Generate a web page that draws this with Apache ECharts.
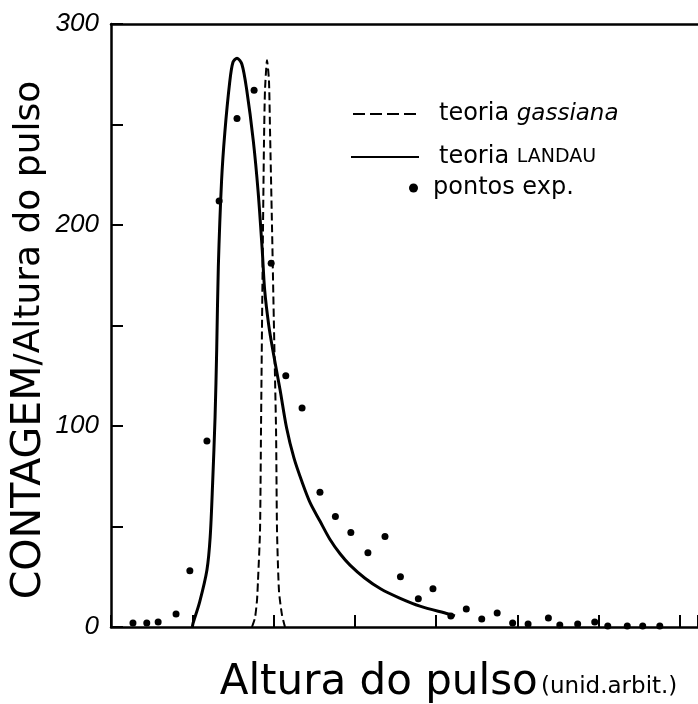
<!DOCTYPE html>
<html>
<head>
<meta charset="utf-8">
<title>Altura do pulso</title>
<script src="https://cdn.jsdelivr.net/npm/echarts@6/dist/echarts.min.js"></script>
<style>
  html, body { margin: 0; padding: 0; background: #fff; }
  #chart { width: 698px; height: 704px; }
</style>
</head>
<body>
<div id="chart"></div>
<script>
// pontos experimentais  [altura, contagem]
var pontosExp = [
  [0.27, 2], [0.44, 2], [0.58, 2.5], [0.80, 6.5], [0.97, 28], [1.18, 92.5],
  [1.33, 212], [1.55, 253], [1.76, 267], [1.97, 181], [2.15, 125], [2.35, 109],
  [2.57, 67], [2.76, 55], [2.95, 47], [3.16, 37], [3.37, 45], [3.56, 25],
  [3.78, 14], [3.96, 19], [4.18, 5.5], [4.37, 9], [4.56, 4], [4.75, 7],
  [4.94, 2], [5.13, 1.5], [5.38, 4.5], [5.52, 1], [5.74, 1.5], [5.95, 2.5],
  [6.11, 0.5], [6.35, 0.5], [6.54, 0.5], [6.75, 0.5]
]
// teoria LANDAU (linha cheia)
var teoriaLandau = [
  [1.00, 0], [1.01, 2], [1.09, 12.4], [1.18, 28.4], [1.22, 44.8], [1.25, 71.6],
  [1.28, 104.5], [1.30, 137.8], [1.32, 179], [1.36, 222], [1.40, 246], [1.46, 271],
  [1.50, 281], [1.55, 283], [1.61, 280], [1.67, 267], [1.75, 242], [1.81, 216.4],
  [1.86, 187.6], [1.89, 167.7], [1.94, 150.2], [1.99, 137.8], [2.08, 117.9],
  [2.16, 99], [2.25, 84.1], [2.35, 72.1], [2.45, 61.7], [2.57, 52.7], [2.69, 43.8],
  [2.82, 36.3], [2.94, 30.8], [3.12, 24.4], [3.32, 18.9], [3.55, 14.4], [3.80, 10.4],
  [4.15, 6.5], [4.23, 5.5]
]
// teoria gaussiana (tracejada)
var teoriaGauss = [
  [1.734, 0], [1.771, 4.5], [1.796, 13.4], [1.808, 23], [1.833, 48], [1.845, 98],
  [1.857, 148], [1.870, 200], [1.882, 242], [1.894, 267], [1.919, 282], [1.943, 272],
  [1.956, 247], [1.980, 200], [2.005, 148], [2.030, 98], [2.042, 48], [2.066, 18],
  [2.103, 6], [2.140, 0]
]
// rótulos do eixo y
var yLabels = [0, 100, 200, 300]

var font = 'DejaVu Sans'
var chart = echarts.init(document.getElementById('chart'))
chart.setOption({
  animation: false,
  backgroundColor: '#fff',
  color: ['#000'],
  grid: { left: 111, right: 0, top: 24, bottom: 77, outerBoundsMode: 'none', containLabel: false },
  // ---- legendas (uma por linha) ----
  legend: [
    {
      data: ['teoria gassiana'], left: 347, top: 97, itemWidth: 68, itemHeight: 2,
      itemStyle: { opacity: 0 },
      lineStyle: { type: [12, 5], width: 2 },
      formatter: 'teoria {i|gassiana}',
      textStyle: { fontFamily: font, fontSize: 24, color: '#000', padding: [0, 0, 0, 13],
        rich: { i: { fontFamily: font, fontSize: 23, fontStyle: 'italic', color: '#000' } } }
    },
    {
      data: ['teoria LANDAU'], left: 345, top: 140, itemWidth: 68, itemHeight: 2,
      itemStyle: { opacity: 0 },
      formatter: 'teoria {s|LANDAU}',
      textStyle: { fontFamily: font, fontSize: 24, color: '#000', padding: [0, 0, 0, 15],
        rich: { s: { fontFamily: font, fontSize: 19, color: '#000' } } }
    },
    {
      data: ['pontos exp.'], left: 404, top: 171, itemWidth: 9, itemHeight: 9, icon: 'circle',
      textStyle: { fontFamily: font, fontSize: 24, color: '#000', padding: [0, 0, 0, 10] }
    }
  ],
  xAxis: [
    {
      type: 'value', min: 0, max: 7.22, interval: 1,
      name: '{a|Altura do pulso} {b|(unid.arbit.)}',
      nameLocation: 'middle', nameGap: 35,
      nameTextStyle: {
        padding: [0, 0, 0, 88],
        rich: {
          a: { fontFamily: font, fontSize: 42, color: '#000' },
          b: { fontFamily: font, fontSize: 23, color: '#000', padding: [8, 0, 0, 0] }
        }
      },
      axisLine: { lineStyle: { color: '#000', width: 2.5 } },
      axisTick: { inside: true, length: 12, lineStyle: { color: '#000', width: 2 } },
      axisLabel: { show: false },
      splitLine: { show: false }
    },
    {
      // linha superior da moldura
      type: 'value', position: 'top', min: 0, max: 7.22,
      axisLine: { show: true, lineStyle: { color: '#000', width: 2.5 } },
      axisTick: { show: false }, axisLabel: { show: false }, splitLine: { show: false }
    }
  ],
  yAxis: {
    type: 'value', min: 0, max: 300, interval: 50,
    name: '{c|CONTAGEM}{l|/Altura do pulso}',
    nameLocation: 'middle', nameRotate: 90, nameGap: 61, nameMoveOverlap: false,
    nameTextStyle: {
      padding: [0, 29, 0, 0],
      rich: {
        c: { fontFamily: font, fontSize: 41, color: '#000' },
        l: { fontFamily: font, fontSize: 36, color: '#000' }
      }
    },
    axisLine: { show: true, lineStyle: { color: '#000', width: 2.5 } },
    axisTick: { inside: true, length: 12, lineStyle: { color: '#000', width: 2 } },
    axisLabel: {
      margin: 12, fontFamily: 'Liberation Sans', fontSize: 26,
      fontStyle: 'italic', color: '#000',
      formatter: function (v) { return yLabels.indexOf(v) >= 0 ? String(v) : '' }
    },
    splitLine: { show: false }
  },
  series: [
    {
      name: 'teoria gassiana', type: 'line', data: teoriaGauss, symbol: 'none', smooth: 0.2,
      lineStyle: { color: '#000', width: 2, type: [8, 4] }
    },
    {
      name: 'teoria LANDAU', type: 'line', data: teoriaLandau, symbol: 'none', smooth: 0.3,
      lineStyle: { color: '#000', width: 3 }
    },
    {
      name: 'pontos exp.', type: 'scatter', data: pontosExp, symbol: 'circle', symbolSize: 7,
      itemStyle: { color: '#000', opacity: 1 }
    }
  ]
})
</script>
</body>
</html>
